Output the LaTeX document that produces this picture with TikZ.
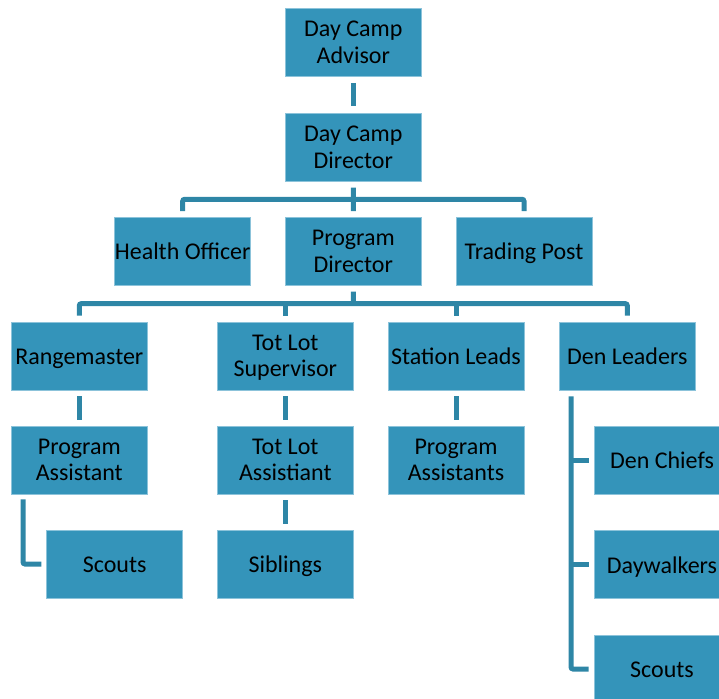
\documentclass[tikz,border=0pt]{standalone}
\usepackage{fontspec}
\setmainfont{Carlito}
\usetikzlibrary{calc}
\definecolor{boxfill}{HTML}{3494BA}
\definecolor{boxedge}{HTML}{8CC3DA}
\definecolor{linkcol}{HTML}{2E86A6}
\begin{document}
\begin{tikzpicture}[x=1pt,y=-1pt,
  orgbox/.style={rectangle, fill=boxfill, draw=boxedge, line width=0.6pt,
    minimum width=136pt, minimum height=68pt, inner sep=0pt, align=center,
    text=black, font=\fontsize{24}{26.5}\selectfont,
    execute at begin node=\rule{0pt}{16.5pt}, text depth=0pt},
  link/.style={draw=linkcol, line width=5pt, rounded corners=2pt}]
\useasboundingbox (0,0) rectangle (719,698);
\clip (0,0) rectangle (719,698);
% nodes
\node[orgbox] (adv) at (353.3,42.2) {Day Camp\\Advisor};
\node[orgbox] (dir) at (353.3,147.2) {Day Camp\\Director};
\node[orgbox] (health) at (182.7,251.3) {Health Officer};
\node[orgbox] (pdir) at (353.3,251.3) {Program\\Director};
\node[orgbox] (trade) at (524,251.3) {Trading Post};
\node[orgbox] (range) at (79.3,356) {Rangemaster};
\node[orgbox] (totsup) at (285.3,356) {Tot Lot\\Supervisor};
\node[orgbox] (station) at (456,356) {Station Leads};
\node[orgbox] (den) at (627.3,356) {Den Leaders};
\node[orgbox] (pa) at (79.3,460) {Program\\Assistant};
\node[orgbox] (totasst) at (285.3,460) {Tot Lot\\Assistiant};
\node[orgbox] (pas) at (456,460) {Program\\Assistants};
\node[orgbox] (scoutsa) at (114.7,564) {Scouts};
\node[orgbox] (siblings) at (285.3,564) {Siblings};
\node[orgbox] (denchiefs) at (662,460.3) {Den Chiefs};
\node[orgbox] (daywalkers) at (662,564.7) {Daywalkers};
\node[orgbox] (scoutsb) at (662,669) {Scouts};
% connectors (yshift is in page direction: negative = down)
\draw[link] ([yshift=-6.5pt]adv.south) -- ([yshift=6.5pt]dir.north);
\coordinate (busa) at ($(dir.south)!0.5!(pdir.north)$);
\draw[link] ([yshift=-6pt]dir.south) -- (busa);
\draw[link] ([yshift=6pt]health.north) |- (busa) -| ([yshift=6pt]trade.north);
\draw[link] (busa) -- ([yshift=6pt]pdir.north);
\coordinate (busb) at ($(pdir.south)!0.5!(pdir.south |- range.north)$);
\draw[link] ([yshift=-6pt]pdir.south) -- (busb);
\draw[link] ([yshift=6pt]range.north) |- (busb) -| ([yshift=6pt]den.north);
\draw[link] ([yshift=6pt]totsup.north) -- (totsup.north |- busb);
\draw[link] ([yshift=6pt]station.north) -- (station.north |- busb);
\draw[link] ([yshift=-6pt]range.south) -- ([yshift=6pt]pa.north);
\draw[link] ([yshift=-6pt]totsup.south) -- ([yshift=6pt]totasst.north);
\draw[link] ([yshift=-6pt]station.south) -- ([yshift=6pt]pas.north);
\draw[link] ([yshift=-6pt]totasst.south) -- ([yshift=6pt]siblings.north);
\draw[link] ([xshift=12pt,yshift=-5pt]pa.south west) |- ([xshift=-5pt]scoutsa.west);
\coordinate (dtop) at ([xshift=12pt,yshift=-6pt]den.south west);
\draw[link] (dtop) |- ([xshift=-5pt]scoutsb.west);
\draw[link] (dtop |- denchiefs.west) -- ([xshift=-5pt]denchiefs.west);
\draw[link] (dtop |- daywalkers.west) -- ([xshift=-5pt]daywalkers.west);
\end{tikzpicture}
\end{document}
